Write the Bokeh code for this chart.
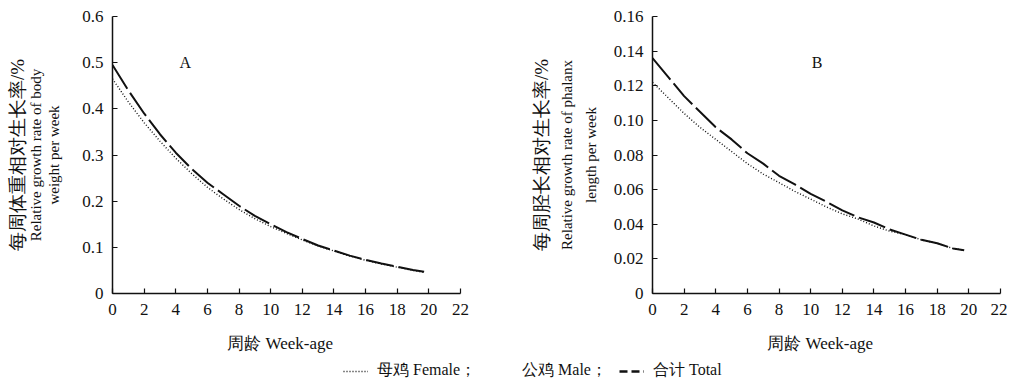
from bokeh.plotting import figure
from bokeh.layouts import column, row
from bokeh.models import (Range1d, FixedTicker, CustomJSTickFormatter, Label,
                          Legend, LegendItem, ColumnDataSource, LinearAxis)
from bokeh.embed import file_html
from bokeh.resources import INLINE

# ---- data ----
weeks = [0, 1, 2, 3, 4, 5, 6, 7, 8, 9, 10, 11, 12, 13, 14, 15, 16, 17, 18, 19, 19.7]

bw_total = [0.495, 0.44, 0.39, 0.345, 0.305, 0.27, 0.24, 0.215, 0.19, 0.168, 0.15,
            0.133, 0.118, 0.104, 0.093, 0.082, 0.073, 0.065, 0.058, 0.051, 0.047]
bw_female = [0.465, 0.415, 0.37, 0.33, 0.293, 0.26, 0.23, 0.205, 0.182, 0.162, 0.145,
             0.13, 0.116, 0.103, 0.092, 0.081, 0.072, 0.064, 0.057, 0.05, 0.046]

pl_total = [0.136, 0.125, 0.114, 0.105, 0.096, 0.089, 0.081, 0.075, 0.068, 0.063, 0.0575,
            0.053, 0.048, 0.044, 0.041, 0.037, 0.034, 0.031, 0.029, 0.026, 0.025]
pl_female = [0.122, 0.113, 0.104, 0.096, 0.089, 0.082, 0.075, 0.069, 0.064, 0.059, 0.0545,
             0.050, 0.046, 0.043, 0.039, 0.036, 0.034, 0.031, 0.029, 0.026, 0.025]

x_ticks = [0, 2, 4, 6, 8, 10, 12, 14, 16, 18, 20, 22]
yA_ticks = [0, 0.1, 0.2, 0.3, 0.4, 0.5, 0.6]
yB_ticks = [0, 0.02, 0.04, 0.06, 0.08, 0.10, 0.12, 0.14, 0.16]

x_label = "周龄    Week-age"
yA_label_cn = "每周体重相对生长率/%"
yA_label_en = "Relative growth rate of body\nweight per week"
yB_label_cn = "每周胫长相对生长率/%"
yB_label_en = "Relative growth rate of phalanx\nlength per week"
legend_labels = ["母鸡 Female；", "公鸡 Male；", "合计 Total"]

FONT = "Liberation Serif"
INK = "#111111"


def make_panel(ymax, yticks, digits, label_cn, label_en, female, total, letter, letter_xy,
               border_left, border_right, ylab_standoff, ylab_lh, cn_standoff):
    p = figure(frame_width=348, frame_height=277,
               min_border_left=border_left, min_border_right=border_right,
               min_border_top=16, min_border_bottom=64,
               x_range=Range1d(0, 22), y_range=Range1d(0, ymax),
               output_backend="svg", toolbar_location=None)
    p.outline_line_color = None
    p.xgrid.visible = False
    p.ygrid.visible = False
    p.background_fill_color = "white"
    p.border_fill_color = "white"

    src = ColumnDataSource(dict(x=weeks, f=female, t=total))
    p.line("x", "f", source=src, line_color=INK, line_width=1.4, line_dash="1 2")
    p.line("x", "t", source=src, line_color=INK, line_width=2.0, line_dash="28 5")

    for ax in (p.xaxis[0], p.yaxis[0]):
        ax.axis_line_color = INK
        ax.axis_line_width = 1.5
        ax.major_tick_line_color = INK
        ax.major_tick_line_width = 1.2
        ax.major_tick_in = 5
        ax.major_tick_out = 0
        ax.minor_tick_line_color = None
        ax.major_label_text_font = FONT
        ax.major_label_text_font_size = "17px"
        ax.major_label_text_color = INK
        ax.axis_label_text_font = FONT
        ax.axis_label_text_font_style = "normal"
        ax.axis_label_text_color = INK

    p.xaxis.ticker = FixedTicker(ticks=x_ticks)
    p.xaxis.major_label_standoff = 10
    p.xaxis.axis_label = x_label
    p.xaxis.axis_label_text_font_size = "17px"
    p.xaxis.axis_label_standoff = 16

    p.yaxis.ticker = FixedTicker(ticks=yticks)
    p.yaxis.formatter = CustomJSTickFormatter(
        code=f"return Math.abs(tick) < 1e-9 ? '0' : tick.toFixed({digits});")
    p.yaxis.major_label_standoff = 9
    p.yaxis.axis_label = label_en
    p.yaxis.axis_label_text_font_size = "15px"
    p.yaxis.axis_label_text_line_height = ylab_lh
    p.yaxis.axis_label_standoff = ylab_standoff

    # Chinese line of the y-axis title: an extra, bare axis further left
    cn_axis = LinearAxis(ticker=FixedTicker(ticks=[]), axis_line_color=None,
                         major_tick_line_color=None, minor_tick_line_color=None,
                         major_tick_in=0, major_tick_out=0, minor_tick_in=0, minor_tick_out=0,
                         major_label_text_font_size="0px", major_label_standoff=0,
                         axis_label=label_cn, axis_label_standoff=cn_standoff,
                         axis_label_text_font=FONT, axis_label_text_font_size="19px",
                         axis_label_text_font_style="normal", axis_label_text_color=INK)
    p.add_layout(cn_axis, "left")

    p.add_layout(Label(x=letter_xy[0], y=letter_xy[1], text=letter,
                       text_font=FONT, text_font_size="16px", text_color=INK,
                       text_align="center", text_baseline="middle"))
    return p


pA = make_panel(0.6, yA_ticks, 1, yA_label_cn, yA_label_en, bw_female, bw_total,
                "A", (4.6, 0.5), 112, 53, 17, 1.15, -3)
pB = make_panel(0.16, yB_ticks, 2, yB_label_cn, yB_label_en, pl_female, pl_total,
                "B", (10.4, 0.1335), 139, 7, 12, 1.5, 4)

# ---- legend strip (legend-only renderers, drawn outside the visible range) ----
pl = figure(width=1000, height=24, x_range=Range1d(-100, -99), y_range=Range1d(-100, -99),
            x_axis_type=None, y_axis_type=None, output_backend="svg",
            toolbar_location=None, min_border=0)
pl.outline_line_color = None
pl.xgrid.visible = False
pl.ygrid.visible = False
r_f = pl.line(weeks, bw_female, line_color=INK, line_width=1.4, line_dash="1 2")
r_m = pl.line(weeks, bw_total, line_color=INK, line_alpha=0)
r_t = pl.line(weeks, bw_total, line_color=INK, line_width=2.6, line_dash="8 4")
leg = Legend(items=[LegendItem(label=legend_labels[0], renderers=[r_f]),
                    LegendItem(label=legend_labels[1], renderers=[r_m]),
                    LegendItem(label=legend_labels[2], renderers=[r_t])],
             orientation="horizontal", location=(343, 0), padding=0, margin=0,
             spacing=12, glyph_width=25, label_standoff=9,
             border_line_color=None, background_fill_alpha=0,
             label_text_font=FONT, label_text_font_size="16px", label_text_color=INK)
pl.add_layout(leg, "center")

layout = column(row(pA, pB, spacing=0), pl, spacing=0)

open("out.html", "w").write(file_html(layout, INLINE))
